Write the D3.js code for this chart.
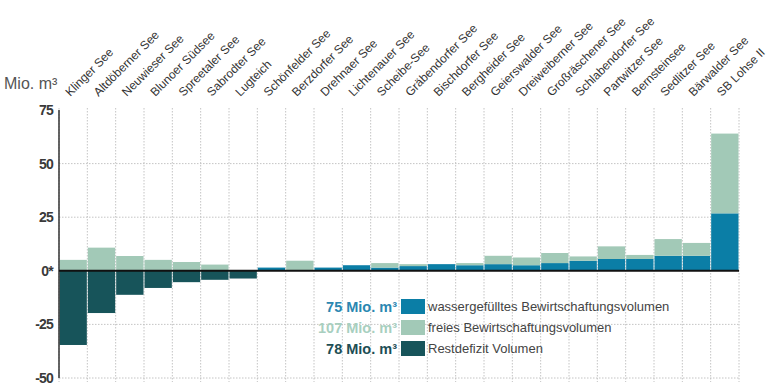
<!DOCTYPE html>
<html>
<head>
<meta charset="utf-8">
<script src="https://cdn.jsdelivr.net/npm/d3@7"></script>
<style>
  body { margin: 0; background: #fff; }
  svg { font-family: "Liberation Sans", Arial, sans-serif; }
</style>
</head>
<body>
<script>
// lakes, left to right
const lakes = ['Klinger See', 'Altdöberner See', 'Neuwieser See', 'Blunoer Südsee', 'Spreetaler See',
    'Sabrodter See', 'Lugteich', 'Schönfelder See', 'Berzdorfer See', 'Drehnaer See', 'Lichtenauer See',
    'Scheibe-See', 'Gräbendorfer See', 'Bischdorfer See', 'Bergheider See', 'Geierswalder See',
    'Dreiweiberner See', 'Großräschener See', 'Schlabendorfer See', 'Partwitzer See', 'Bernsteinsee',
    'Sedlitzer See', 'Bärwalder See', 'SB Lohse II'];

// Mio. m³
const filled = [0, 0, 0, 0, 0, 0, 0, 1.5, 0, 1.5, 2.6, 1.5, 2.2, 3.1, 2.6, 3.1, 2.6, 3.6, 4.7, 5.5, 5.5, 7, 7, 26.8];
const free = [5.1, 10.8, 6.9, 5.1, 4.1, 2.9, 0, 0, 4.7, 0, 0, 2.1, 0.9, 0, 1, 3.9, 3.6, 4.7, 2, 5.9, 1.9, 7.8, 6, 37.2];
const deficit = [34.6, 19.7, 11.2, 8, 5.3, 4.2, 3.6, 0, 0, 0, 0, 0, 0, 0, 0, 0, 0, 0, 0, 0, 0, 0, 0, 0];

const yTicks = [75, 50, 25, 0, -25, -50];
const legendTotals = ['75 Mio. m³', '107 Mio. m³', '78 Mio. m³'];
const legendNames = ['wassergefülltes Bewirtschaftungsvolumen', 'freies Bewirtschaftungsvolumen', 'Restdefizit Volumen'];
const colors = ['#0b7ea6', '#a2c9b7', '#17545a'];
const totalColors = ['#2b87b1', '#a8cfbf', '#1d4e55'];

let svg = d3.select('body').append('svg')
    .attr('width', 768)
    .attr('height', 392);

let x = d3.scaleBand()
    .domain(lakes)
    .range([59, 739]);

let y = d3.scaleLinear()
    .domain([-50, 75])
    .range([378, 110]);

// grid
let grid = svg.append('g');
grid.selectAll('line.v')
    .data(d3.range(lakes.length + 1))
    .enter()
    .append('line')
    .attr('x1', (i) => 59 + i * x.bandwidth())
    .attr('x2', (i) => 59 + i * x.bandwidth())
    .attr('y1', y(75) - 2)
    .attr('y2', y(-50) + 4)
    .attr('stroke', '#bdbdbd')
    .attr('stroke-width', 0.9)
    .attr('stroke-dasharray', '1.5,1.5');

grid.selectAll('line.h')
    .data(yTicks.filter((d) => d !== 0 && d !== 75))
    .enter()
    .append('line')
    .attr('x1', 59)
    .attr('x2', 739)
    .attr('y1', (d) => y(d))
    .attr('y2', (d) => y(d))
    .attr('stroke', '#bdbdbd')
    .attr('stroke-width', 0.9)
    .attr('stroke-dasharray', '1.5,1.5');

// bars
let bars = svg.append('g');
const bw = x.bandwidth();

bars.selectAll('rect.filled')
    .data(lakes)
    .enter()
    .append('rect')
    .attr('x', (d) => x(d) + 0.5)
    .attr('width', bw - 1)
    .attr('y', (d, i) => y(filled[i]))
    .attr('height', (d, i) => y(0) - y(filled[i]))
    .attr('fill', colors[0]);

bars.selectAll('rect.free')
    .data(lakes)
    .enter()
    .append('rect')
    .attr('x', (d) => x(d) + 0.5)
    .attr('width', bw - 1)
    .attr('y', (d, i) => y(filled[i] + free[i]))
    .attr('height', (d, i) => y(filled[i]) - y(filled[i] + free[i]))
    .attr('fill', colors[1]);

bars.selectAll('rect.deficit')
    .data(lakes)
    .enter()
    .append('rect')
    .attr('x', (d) => x(d) + 0.5)
    .attr('width', bw - 1)
    .attr('y', y(0))
    .attr('height', (d, i) => y(-deficit[i]) - y(0))
    .attr('fill', colors[2]);

// axis + zero line
svg.append('line')
    .attr('x1', 59).attr('x2', 59)
    .attr('y1', y(75)).attr('y2', y(-50))
    .attr('stroke', '#333')
    .attr('stroke-width', 1.5);

svg.append('line')
    .attr('x1', 59).attr('x2', 739)
    .attr('y1', y(0)).attr('y2', y(0))
    .attr('stroke', '#111')
    .attr('stroke-width', 2);

svg.append('g').selectAll('text')
    .data(yTicks)
    .enter()
    .append('text')
    .attr('x', 53)
    .attr('y', (d) => y(d) + 5)
    .attr('text-anchor', 'end')
    .attr('font-size', 14)
    .attr('font-weight', 'bold')
    .attr('letter-spacing', -0.8)
    .attr('fill', '#3a3a3a')
    .text((d) => d === 0 ? '0*' : d);

svg.append('text')
    .attr('x', 4)
    .attr('y', 89)
    .attr('font-size', 16)
    .attr('fill', '#555')
    .text('Mio. m³');

// rotated lake names
svg.append('g').selectAll('text')
    .data(lakes)
    .enter()
    .append('text')
    .attr('transform', (d) => 'translate(' + (x(d) + bw / 2 - 3) + ',97) rotate(-45)')
    .attr('font-size', 12)
    .attr('fill', '#333')
    .text((d) => d);

// legend
let legend = svg.append('g');
legendNames.forEach((name, i) => {
    const top = 299 + i * 21;
    legend.append('text')
        .attr('x', 397)
        .attr('y', top + 12.5)
        .attr('text-anchor', 'end')
        .attr('font-size', 14.5)
        .attr('font-weight', 'bold')
        .attr('fill', totalColors[i])
        .text(legendTotals[i]);
    legend.append('rect')
        .attr('x', 401)
        .attr('y', top)
        .attr('width', 24)
        .attr('height', 15)
        .attr('fill', colors[i]);
    legend.append('text')
        .attr('x', 428)
        .attr('y', top + 12)
        .attr('font-size', 13)
        .attr('fill', '#444')
        .text(name);
});
</script>
</body>
</html>
